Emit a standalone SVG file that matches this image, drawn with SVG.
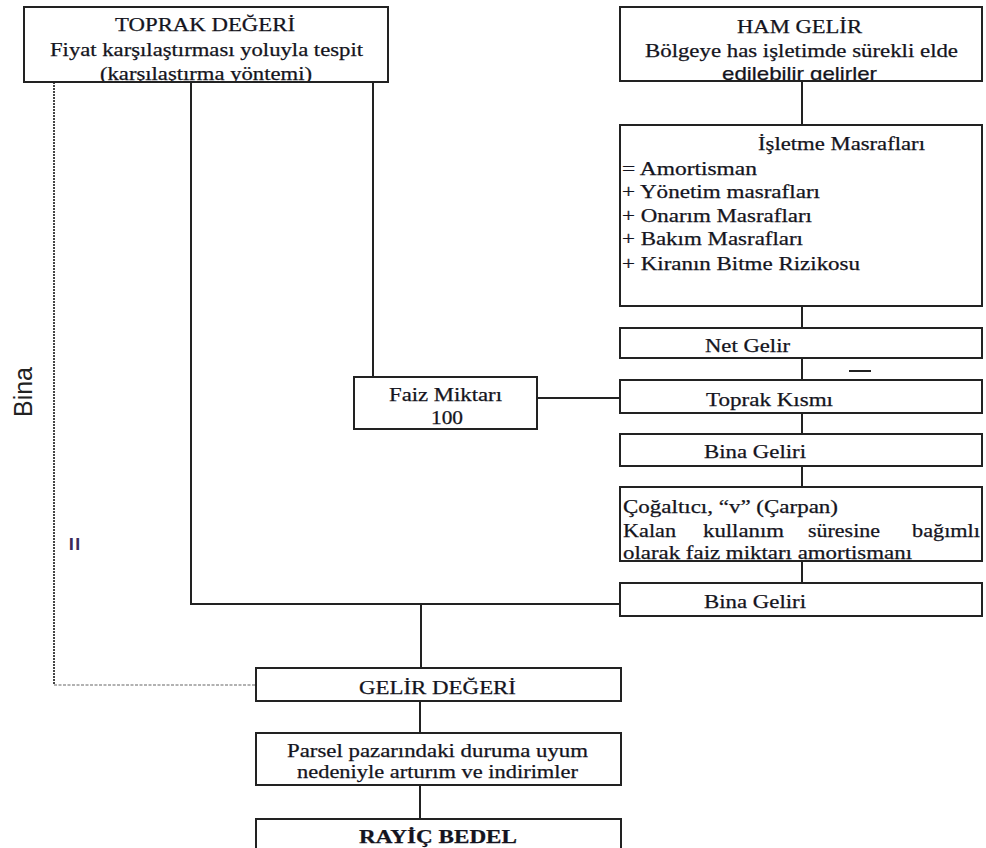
<svg xmlns="http://www.w3.org/2000/svg" width="986" height="848" viewBox="0 0 986 848">
<style>
.box{fill:#fff;stroke:#222;stroke-width:2}
.t{font-family:"Liberation Serif","Times New Roman",serif;font-size:19px;fill:#141420;stroke:#141420;stroke-width:0.25}
.c{text-anchor:middle}
.s{font-family:"Liberation Sans",Arial,sans-serif}
.ln{stroke:#222;stroke-width:2;fill:none}
.dot{stroke:#444;stroke-width:2;stroke-dasharray:2 1;fill:none}
.dot2{stroke:#999;stroke-width:1.5;stroke-dasharray:3 1.5;fill:none}
</style>
<defs>
<clipPath id="c1"><rect x="24" y="7" width="364" height="74"/></clipPath>
<clipPath id="c2"><rect x="620" y="7" width="362" height="73"/></clipPath>
<clipPath id="c7"><rect x="620" y="487" width="362" height="73"/></clipPath>
</defs>
<rect width="986" height="848" fill="#fff"/>
<g id="connectors">
<path class="ln" d="M802 81V125M802 306V328M802 358V380M802 413V434M802 466V487M802 561V583"/>
<path class="ln" d="M373 82V377"/>
<path class="ln" d="M191 82V604H620"/>
<path class="ln" d="M421 604V668"/>
<path class="ln" d="M420 701V733M420 785V819"/>
<path class="ln" d="M537 398H623"/>
<path class="dot" d="M54 82V685"/>
<path class="dot2" d="M54 685H256"/>
<path class="ln" d="M849 371H871"/>
</g>
<g id="n-toprak-degeri">
<rect class="box" x="24" y="7" width="364" height="75"/>
<text class="t c" x="205" y="31" textLength="180" lengthAdjust="spacingAndGlyphs">TOPRAK DEĞERİ</text>
<text class="t c" x="206.5" y="56" textLength="313" lengthAdjust="spacingAndGlyphs">Fiyat karşılaştırması yoluyla tespit</text>
<text class="t c" x="206" y="80" textLength="212" lengthAdjust="spacingAndGlyphs" clip-path="url(#c1)">(karşılaştırma yöntemi)</text>
</g>
<g id="n-ham-gelir">
<rect class="box" x="620" y="7" width="362" height="74"/>
<text class="t c" x="799.5" y="33" textLength="125" lengthAdjust="spacingAndGlyphs">HAM GELİR</text>
<text class="t c" x="801.5" y="57" textLength="313" lengthAdjust="spacingAndGlyphs">Bölgeye has işletimde sürekli elde</text>
<text class="t c s" x="799.5" y="80" textLength="155" lengthAdjust="spacingAndGlyphs" clip-path="url(#c2)">edilebilir gelirler</text>
</g>
<g id="n-isletme">
<rect class="box" x="620" y="125" width="362" height="181"/>
<text class="t" x="758" y="150" textLength="167" lengthAdjust="spacingAndGlyphs">İşletme Masrafları</text>
<text class="t" x="622" y="175" textLength="135" lengthAdjust="spacingAndGlyphs">= Amortisman</text>
<text class="t" x="622" y="198" textLength="198" lengthAdjust="spacingAndGlyphs">+ Yönetim masrafları</text>
<text class="t" x="622" y="222" textLength="190" lengthAdjust="spacingAndGlyphs">+ Onarım Masrafları</text>
<text class="t" x="622" y="245" textLength="181" lengthAdjust="spacingAndGlyphs">+ Bakım Masrafları</text>
<text class="t" x="622" y="270" textLength="238" lengthAdjust="spacingAndGlyphs">+ Kiranın Bitme Rizikosu</text>
</g>
<g id="n-net-gelir">
<rect class="box" x="620" y="328" width="362" height="30"/>
<text class="t" x="705" y="352" textLength="85" lengthAdjust="spacingAndGlyphs">Net Gelir</text>
</g>
<g id="n-toprak-kismi">
<rect class="box" x="620" y="380" width="362" height="33"/>
<text class="t" x="706" y="406" textLength="127" lengthAdjust="spacingAndGlyphs">Toprak Kısmı</text>
</g>
<g id="n-bina-geliri-1">
<rect class="box" x="620" y="434" width="362" height="32"/>
<text class="t" x="704" y="458" textLength="102" lengthAdjust="spacingAndGlyphs">Bina Geliri</text>
</g>
<g id="n-cogaltici">
<rect class="box" x="620" y="487" width="362" height="74"/>
<text class="t" x="623" y="513" textLength="215" lengthAdjust="spacingAndGlyphs">Çoğaltıcı, “v” (Çarpan)</text>
<text class="t" x="623" y="537" textLength="53" lengthAdjust="spacingAndGlyphs">Kalan</text>
<text class="t" x="703" y="537" textLength="81" lengthAdjust="spacingAndGlyphs">kullanım</text>
<text class="t" x="808" y="537" textLength="72" lengthAdjust="spacingAndGlyphs">süresine</text>
<text class="t" x="912" y="537" textLength="68" lengthAdjust="spacingAndGlyphs">bağımlı</text>
<text class="t" x="623" y="559" textLength="289" lengthAdjust="spacingAndGlyphs" clip-path="url(#c7)">olarak faiz miktarı amortismanı</text>
</g>
<g id="n-bina-geliri-2">
<rect class="box" x="620" y="583" width="362" height="33"/>
<text class="t" x="704" y="608" textLength="102" lengthAdjust="spacingAndGlyphs">Bina Geliri</text>
</g>
<g id="n-faiz">
<rect class="box" x="354" y="377" width="183" height="52"/>
<text class="t c" x="445.5" y="401" textLength="113" lengthAdjust="spacingAndGlyphs">Faiz Miktarı</text>
<text class="t c" x="447" y="424" textLength="32" lengthAdjust="spacingAndGlyphs">100</text>
</g>
<g id="n-gelir-degeri">
<rect class="box" x="256" y="668" width="365" height="33"/>
<text class="t c" x="437.5" y="694" textLength="157" lengthAdjust="spacingAndGlyphs">GELİR DEĞERİ</text>
</g>
<g id="n-parsel">
<rect class="box" x="256" y="733" width="365" height="52"/>
<text class="t c" x="437.5" y="757" textLength="301" lengthAdjust="spacingAndGlyphs">Parsel pazarındaki duruma uyum</text>
<text class="t c" x="437.5" y="778" textLength="281" lengthAdjust="spacingAndGlyphs">nedeniyle arturım ve indirimler</text>
</g>
<g id="n-rayic">
<rect class="box" x="256" y="819" width="365" height="40"/>
<text class="t c" x="438" y="843" font-weight="bold" textLength="158" lengthAdjust="spacingAndGlyphs">RAYİÇ BEDEL</text>
</g>
<g id="n-bina-label">
<text class="s" x="23" y="392" font-size="25" fill="#222" text-anchor="middle" dominant-baseline="central" transform="rotate(-90 23 392)">Bina</text>
<text class="s" x="74" y="544" font-size="24" font-weight="bold" fill="#3a2a5a" text-anchor="middle" dominant-baseline="central" transform="rotate(-90 74 544)">=</text>
</g>
</svg>
